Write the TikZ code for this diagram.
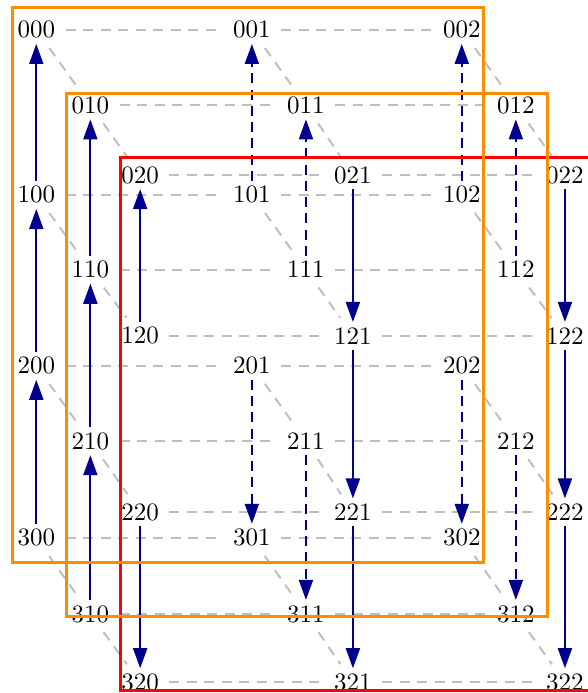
\documentclass[tikz,border=0pt]{standalone}
\usetikzlibrary{arrows.meta}

\definecolor{arrowblue}{RGB}{0,0,140}
\definecolor{darkorange}{RGB}{255,140,0}
\tikzset{
  vertex/.style={inner sep=2pt},
  grid/.style={gray!50,thick,dash pattern=on 4pt off 3pt,shorten <=2pt,shorten >=2pt},
  move/.style={->,arrowblue,thick},
  hidden/.style={dash pattern=on 4pt off 2.5pt},
  slice/.style={very thick},
}

\begin{document}
\begin{tikzpicture}[>={Triangle[length=8pt,width=5.6pt]}]
\useasboundingbox (0,0) rectangle (8.25,-9.74);

% the three layers
\foreach \i/\y in {0/0.42,1/2.74,2/5.14,3/7.56}
  \foreach \k/\x in {0/0.51,1/3.54,2/6.49}
    \node[vertex] (\i0\k) at (\x,-\y) {\i0\k};
\foreach \i/\y in {0/1.48,1/3.79,2/6.20,3/8.63}
  \foreach \k/\x in {0/1.27,1/4.30,2/7.25}
    \node[vertex] (\i1\k) at (\x,-\y) {\i1\k};
\foreach \i/\y in {0/2.46,1/4.72,2/7.20,3/9.59}
  \foreach \k/\x in {0/1.97,1/4.96,2/7.94}
    \node[vertex] (\i2\k) at (\x,-\y) {\i2\k};

% grey grid
\foreach \i in {0,...,3}
  \foreach \j in {0,1,2} {
    \draw[grid] (\i\j0) -- (\i\j1);
    \draw[grid] (\i\j1) -- (\i\j2);
  }
\foreach \i in {0,...,3}
  \foreach \k in {0,1,2} {
    \draw[grid] (\i0\k) -- (\i1\k);
    \draw[grid] (\i1\k) -- (\i2\k);
  }

% moves
\draw[move] (100) -- (000);
\draw[move] (200) -- (100);
\draw[move] (300) -- (200);
\draw[move] (110) -- (010);
\draw[move] (210) -- (110);
\draw[move] (310) -- (210);
\draw[move] (120) -- (020);
\draw[move] (220) -- (320);
\draw[move] (021) -- (121);
\draw[move] (121) -- (221);
\draw[move] (221) -- (321);
\draw[move] (022) -- (122);
\draw[move] (122) -- (222);
\draw[move] (222) -- (322);

\draw[move,hidden] (101) -- (001);
\draw[move,hidden] (102) -- (002);
\draw[move,hidden] (111) -- (011);
\draw[move,hidden] (112) -- (012);
\draw[move,hidden] (201) -- (301);
\draw[move,hidden] (202) -- (302);
\draw[move,hidden] (211) -- (311);
\draw[move,hidden] (212) -- (312);

% slices
\draw[slice,red] (1.70,-2.21) rectangle (8.6,-9.71);
\draw[slice,darkorange] (0.94,-1.31) rectangle (7.70,-8.67);
\draw[slice,darkorange] (0.18,-0.11) rectangle (6.80,-7.91);
\end{tikzpicture}
\end{document}
